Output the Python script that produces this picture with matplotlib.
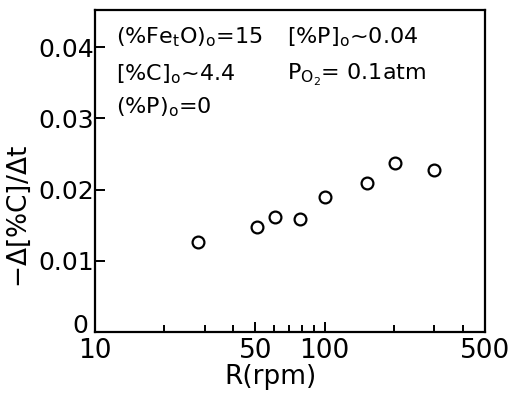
import matplotlib
matplotlib.use("Agg")
import matplotlib.pyplot as plt
import matplotlib.transforms as mtransforms
from matplotlib.ticker import FixedLocator, FixedFormatter, NullFormatter

# data
rpm = [28, 51, 61, 78, 100, 153, 202, 301]
rate = [0.0126, 0.0148, 0.0162, 0.0159, 0.0189, 0.0209, 0.0238, 0.0228]

x_ticks = [10, 50, 100, 500]
x_labels = ["10", "50", "100", "500"]
x_minor = [20, 30, 40, 60, 70, 80, 90, 200, 300, 400]
y_ticks = [0, 0.01, 0.02, 0.03, 0.04]
y_labels = ["0", "0.01", "0.02", "0.03", "0.04"]

plt.rcParams["font.family"] = "DejaVu Sans"
plt.rcParams["mathtext.fontset"] = "dejavusans"

fig = plt.figure(figsize=(5.11, 4.03), dpi=100)
ax = fig.add_axes([0.186, 0.176, 0.763, 0.799])

ax.plot(rpm, rate, "o", mfc="white", mec="black", mew=1.6, ms=8.5, ls="none")

ax.set_xscale("log")
ax.set_xlim(10, 500)
ax.set_ylim(0, 0.0452)
ax.xaxis.set_major_locator(FixedLocator(x_ticks))
ax.xaxis.set_major_formatter(FixedFormatter(x_labels))
ax.xaxis.set_minor_locator(FixedLocator(x_minor))
ax.xaxis.set_minor_formatter(NullFormatter())
ax.set_yticks(y_ticks)
ax.set_yticklabels(y_labels)

ax.tick_params(which="both", direction="in", width=1.4, labelsize=19, pad=4)
ax.tick_params(which="major", length=7)
ax.tick_params(which="minor", length=5)
ax.tick_params(axis="y", pad=1, labelsize=18)
for s in ax.spines.values():
    s.set_linewidth(1.6)

# the zero sits a bit above and left of the "10", as in the scan
zero = ax.get_yticklabels()[0]
zero.set_transform(zero.get_transform() + mtransforms.ScaledTranslation(-4/72, 6/72, fig.dpi_scale_trans))

ax.set_xlabel("R(rpm)", fontsize=19)
ax.xaxis.set_label_coords(0.45, -0.1)
ax.set_ylabel(r"$-\Delta$[%C]/$\Delta$t", fontsize=19)
ax.yaxis.set_label_coords(-0.158, 0.36)

fs = 16
ax.text(0.055, 0.897, r"(%Fe$_\mathrm{t}$O)$_\mathrm{o}$=15", transform=ax.transAxes, fontsize=fs)
ax.text(0.492, 0.897, r"[%P]$_\mathrm{o}$~0.04", transform=ax.transAxes, fontsize=fs)
ax.text(0.055, 0.783, r"[%C]$_\mathrm{o}$~4.4", transform=ax.transAxes, fontsize=fs)
ax.text(0.492, 0.783, r"P$_{\mathrm{O}_2}$= 0.1atm", transform=ax.transAxes, fontsize=fs)
ax.text(0.055, 0.68, r"(%P)$_\mathrm{o}$=0", transform=ax.transAxes, fontsize=fs)

fig.savefig("out.png", dpi=100)
